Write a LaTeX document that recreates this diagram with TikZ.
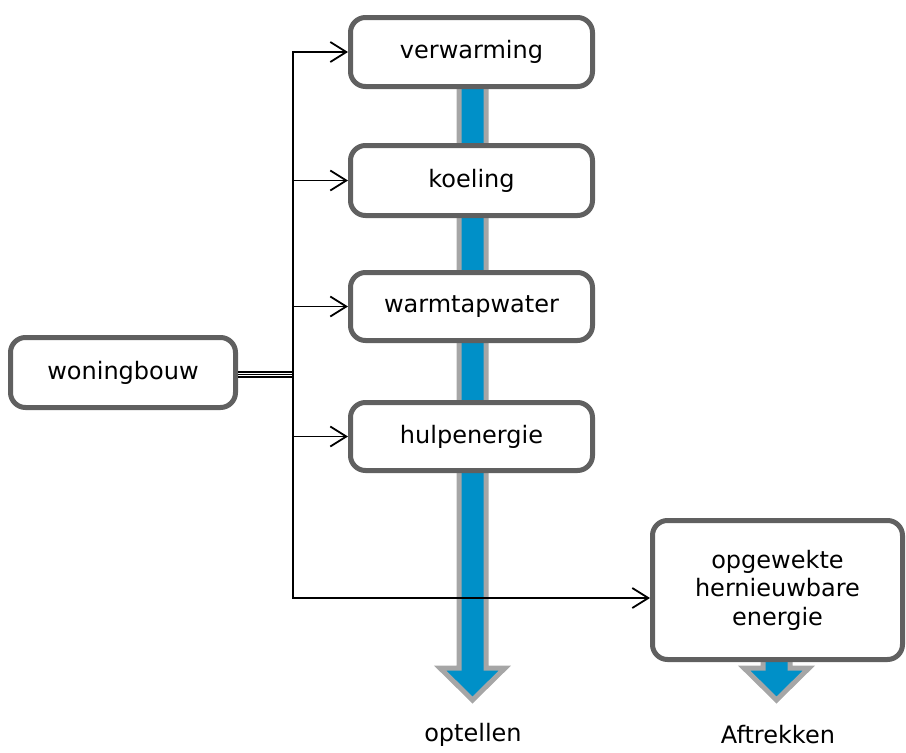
\documentclass[tikz,border=0pt]{standalone}
\usepackage{fontspec}
\setmainfont{DejaVu Sans}
\usetikzlibrary{arrows.meta}
\definecolor{boxgray}{HTML}{606060}
\definecolor{colgray}{HTML}{A6A6A6}
\definecolor{colblue}{HTML}{0090C8}
\tikzset{
  box/.style={draw=boxgray, line width=5pt, rounded corners=15pt, fill=white,
    align=center, inner sep=0pt, font=\fontsize{24}{28.5}\selectfont},
  conn/.style={line width=1.8pt, -{Straight Barb[length=16pt,width=20pt,line width=1.8pt]}},
  plain/.style={line width=1.6pt},
  bigarrow/.style={fill=colblue, draw=colgray, line width=5pt, line join=miter},
  lbl/.style={font=\fontsize{24}{28.5}\selectfont, inner sep=0pt}
}
\begin{document}
\begin{tikzpicture}[x=1pt,y=-1pt]
\useasboundingbox (0,0) rectangle (906,753);
% column arrows (behind boxes)
\filldraw[bigarrow] (459,80) -- (486,80) -- (486,668) -- (505,668) -- (472.5,700) -- (440,668) -- (459,668) -- cycle;
\filldraw[bigarrow] (763,640) -- (790,640) -- (790,668) -- (809,668) -- (776.5,700) -- (744,668) -- (763,668) -- cycle;
% boxes
\node[box, minimum width=242pt, minimum height=69pt] (verw) at (471.5,52) {verwarming};
\node[box, minimum width=242pt, minimum height=70pt] (koel) at (471.5,180.5) {koeling};
\node[box, minimum width=242pt, minimum height=68pt] (warm) at (471.5,306.5) {warmtapwater};
\node[box, minimum width=242pt, minimum height=68pt] (hulp) at (471.5,436.5) {hulpenergie};
\node[box, minimum width=225pt, minimum height=70pt] (won) at (123,372.5) {woningbouw};
\node[box, minimum width=250pt, minimum height=139pt] (opg) at (777.5,590) {opgewekte\\hernieuwbare\\energie};
% labels
\node[lbl] (opt) at (473,735) {optellen};
\node[lbl] (aft) at (778,735) {Aftrekken};
% connectors
\coordinate (j) at (293,374.5);
\draw[plain] ([yshift=0.6pt]won.east -| won.east) -- ([yshift=0.6pt]won.east -| j);
\draw[plain] ([yshift=-2pt]won.east) -- ([yshift=-2pt]won.east -| j);
\draw[plain] ([yshift=-4.6pt]won.east) -- ([yshift=-4.6pt]won.east -| j);
\draw[conn] (j) |- (verw.west);
\draw[conn] (j) |- (koel.west);
\draw[conn] (j) |- (warm.west);
\draw[conn] (j) |- (hulp.west);
\draw[conn] (j) |- ([yshift=-8pt]opg.west);
\end{tikzpicture}
\end{document}
